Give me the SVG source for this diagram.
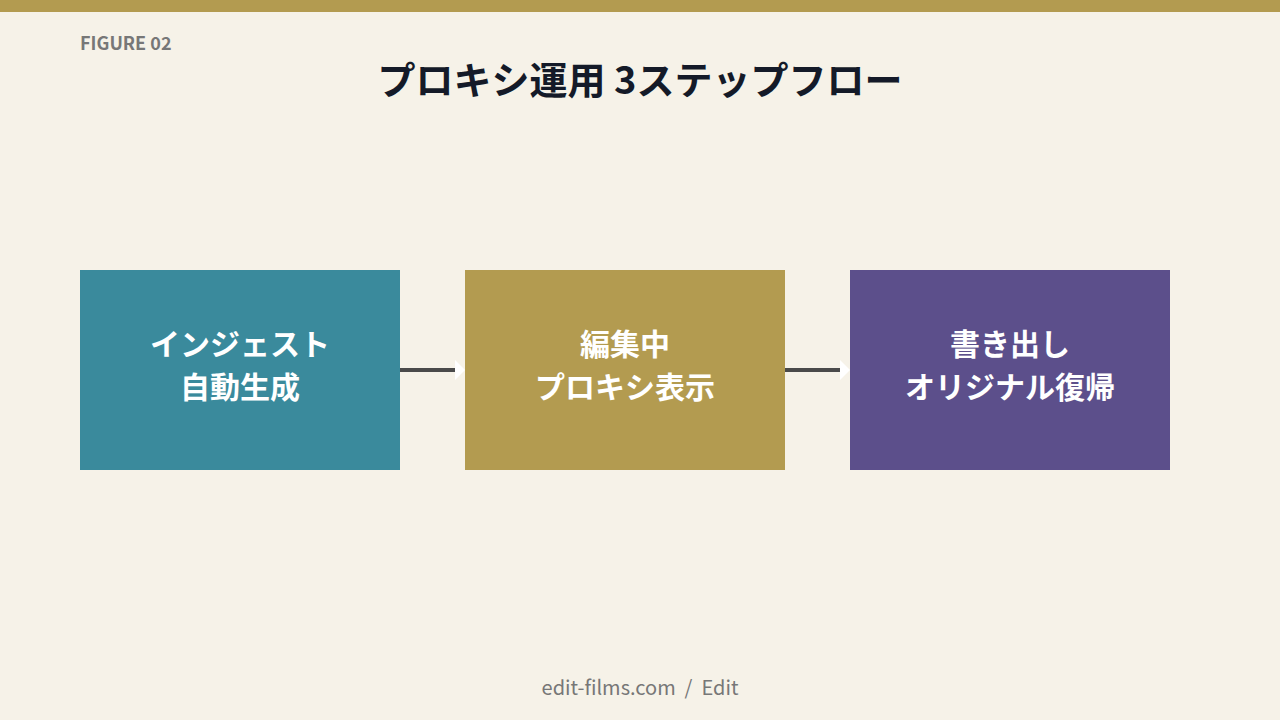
<svg xmlns="http://www.w3.org/2000/svg" width="1280" height="720" viewBox="0 0 1280 720">
<style>
.cjk{font-family:"Noto Sans CJK JP","Noto Sans",sans-serif}
.lbl{font-size:30px;font-weight:700;fill:#ffffff;text-anchor:middle}
.conn{stroke:#4a4a4a;stroke-width:4;fill:none}
.head{fill:#ffffff}
</style>
<rect x="0" y="0" width="1280" height="720" fill="#f6f2e8"/>
<rect x="0" y="0" width="1280" height="12" fill="#b39b50"/>
<text x="80" y="50" class="cjk" font-size="18" font-weight="700" fill="#777777">FIGURE 02</text>
<text x="640" y="94" class="cjk" font-size="38" font-weight="700" fill="#141a28" text-anchor="middle">プロキシ運用 3ステップフロー</text>
<g id="connectors">
<line class="conn" x1="400" y1="370" x2="456" y2="370"/>
<polygon class="head" points="455,360 465,370 455,380"/>
<line class="conn" x1="785" y1="370" x2="841" y2="370"/>
<polygon class="head" points="840,360 850,370 840,380"/>
</g>
<g id="node-ingest">
<rect x="80" y="270" width="320" height="200" fill="#3a8a9c"/>
<text class="cjk lbl" x="240" y="355">インジェスト</text>
<text class="cjk lbl" x="240" y="398">自動生成</text>
</g>
<g id="node-edit">
<rect x="465" y="270" width="320" height="200" fill="#b39b50"/>
<text class="cjk lbl" x="625" y="355">編集中</text>
<text class="cjk lbl" x="625" y="398">プロキシ表示</text>
</g>
<g id="node-export">
<rect x="850" y="270" width="320" height="200" fill="#5c4f8b"/>
<text class="cjk lbl" x="1010" y="355">書き出し</text>
<text class="cjk lbl" x="1010" y="398">オリジナル復帰</text>
</g>
<text x="640" y="695" class="cjk" font-size="20" fill="#777777" text-anchor="middle" xml:space="preserve" style="white-space:pre">edit-films.com  /  Edit</text>
</svg>
